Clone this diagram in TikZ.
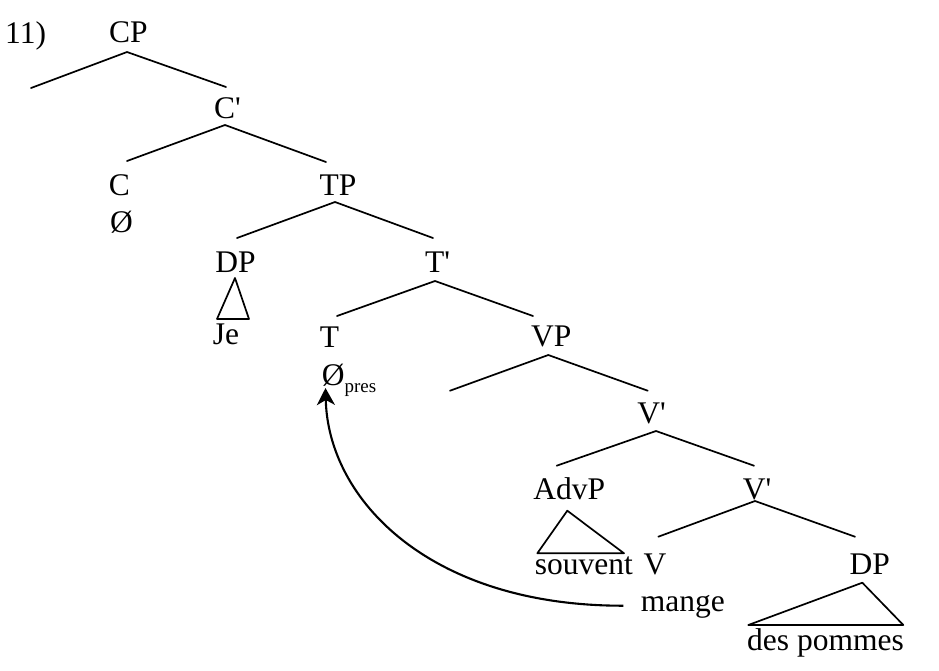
\documentclass[tikz,border=0pt]{standalone}
\usepackage{fontspec}
\setmainfont{Liberation Serif}
\usetikzlibrary{arrows.meta}
\begin{document}
\begin{tikzpicture}[x=1pt,y=-1pt,
  lbl/.style={anchor=base,inner sep=0pt,font=\fontsize{31.5}{36}\selectfont},
  branch/.style={line width=1.7pt,line cap=round,line join=round},
  mvarrow/.style={line width=2.1pt,-{Stealth[length=17pt,width=18pt,inset=5pt]}}]
\useasboundingbox (0,0) rectangle (939,670);
% labels
\node[lbl,anchor=base west] (num) at (5,43) {11)};
\node[lbl] (cp) at (128.5,42.7) {CP};
\node[lbl] (cbar) at (227.5,118) {C\textquotesingle};
\node[lbl] (c) at (119.5,195) {C};
\node[lbl] (cnull) at (121.5,232) {Ø};
\node[lbl] (tp) at (338,195) {TP};
\node[lbl] (dp) at (235.5,272) {DP};
\node[lbl] (je) at (226,344) {Je};
\node[lbl] (tbar) at (437.5,272) {T\textquotesingle};
\node[lbl] (t) at (329.5,347) {T};
\node[lbl,anchor=base west] (tnull) at (321.7,385) {Ø\raisebox{-7pt}{\fontsize{19}{19}\selectfont pres}};
\node[lbl] (vp) at (551.3,346.7) {VP};
\node[lbl] (vbara) at (651.5,423.3) {V\textquotesingle};
\node[lbl] (advp) at (569.3,499.3) {AdvP};
\node[lbl] (vbarb) at (757,499.3) {V\textquotesingle};
\node[lbl] (souvent) at (583.8,574) {souvent};
\node[lbl] (v) at (655,574) {V};
\node[lbl] (dpb) at (869.7,574) {DP};
\node[lbl] (mange) at (682.8,611.7) {mange};
\node[lbl] (pommes) at (825.5,650) {des pommes};
% branch points
\coordinate (cpA) at (127,52);   \coordinate (cpL) at (31,88);    \coordinate (cpR) at (226,87);
\coordinate (cbA) at (225,125);  \coordinate (cbL) at (127,161);  \coordinate (cbR) at (326,162);
\coordinate (tpA) at (335,202);  \coordinate (tpL) at (237,238);  \coordinate (tpR) at (433,238);
\coordinate (tbA) at (435,281);  \coordinate (tbL) at (337,316);  \coordinate (tbR) at (533,316);
\coordinate (vpA) at (548.3,355);\coordinate (vpL) at (450,390.7);\coordinate (vpR) at (647.7,390.7);
\coordinate (vaA) at (656,431);  \coordinate (vaL) at (556.7,465.7);\coordinate (vaR) at (754,465.7);
\coordinate (vbA) at (755,501);  \coordinate (vbL) at (658.3,536.7);\coordinate (vbR) at (855,536.7);
\coordinate (dtA) at (235,278);  \coordinate (dtL) at (217,319);  \coordinate (dtR) at (249,319);
\coordinate (atA) at (567.3,510.7);\coordinate (atL) at (537.3,553.3);\coordinate (atR) at (624,553.3);
\coordinate (ptA) at (862.3,582.7);\coordinate (ptL) at (748.3,625);\coordinate (ptR) at (903.3,625);
\coordinate (mvS) at (623.3,605.7); \coordinate (mvE) at (325.5,388);
% branches
\draw[branch] (cpL) -- (cpA) -- (cpR);
\draw[branch] (cbL) -- (cbA) -- (cbR);
\draw[branch] (tpL) -- (tpA) -- (tpR);
\draw[branch] (tbL) -- (tbA) -- (tbR);
\draw[branch] (vpL) -- (vpA) -- (vpR);
\draw[branch] (vaL) -- (vaA) -- (vaR);
\draw[branch] (vbL) -- (vbA) -- (vbR);
% triangles
\draw[branch] (dtA) -- (dtL) -- (dtR) -- cycle;
\draw[branch] (atA) -- (atL) -- (atR) -- cycle;
\draw[branch] (ptA) -- (ptL) -- (ptR) -- cycle;
% movement arrow
\draw[mvarrow] (mvS) .. controls (430,606) and (328,500) .. (mvE);
\end{tikzpicture}
\end{document}
